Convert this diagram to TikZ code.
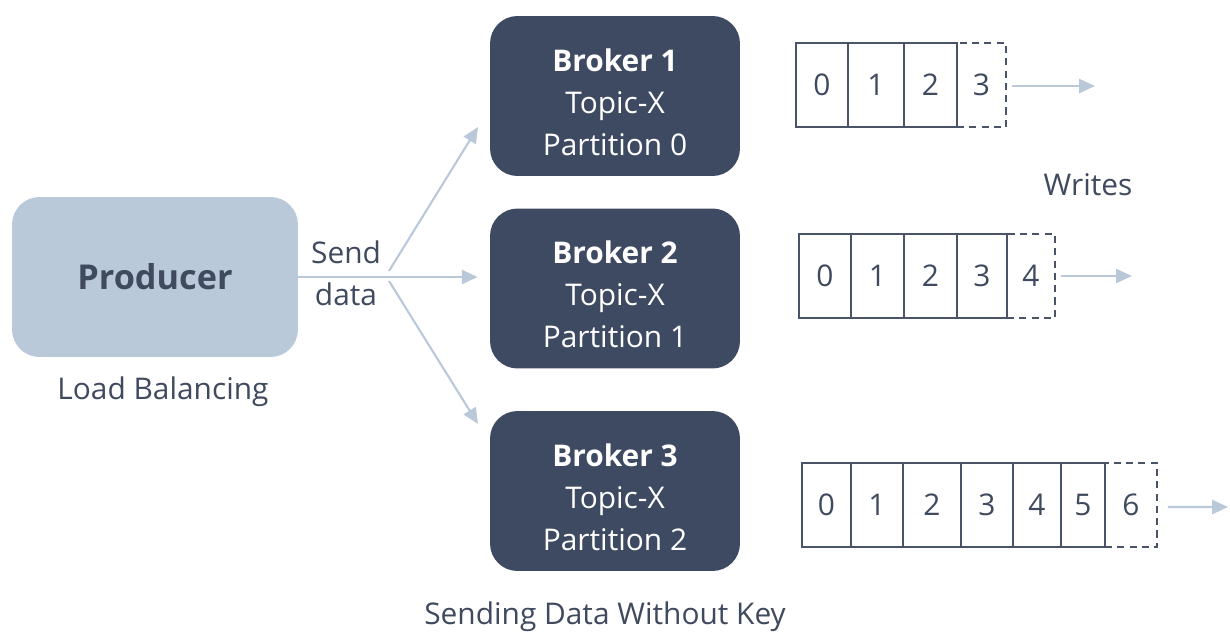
\documentclass[tikz,border=0pt]{standalone}
\usepackage{fontspec}
\setmainfont{Open Sans}
\usetikzlibrary{arrows.meta}
\definecolor{slate}{HTML}{3E4A62}
\definecolor{ink}{HTML}{3F4A5E}
\definecolor{pale}{HTML}{B9C9D9}
\definecolor{cellline}{HTML}{4A5468}
\tikzset{
  txt/.style={font=\fontsize{17pt}{23.8pt}\selectfont, text=ink, align=center, inner sep=0pt},
  broker/.style={fill=slate, rounded corners=0.55cm, minimum width=5cm, minimum height=3.2cm, inner sep=0pt},
  btext/.style={text=white, align=center, font=\fontsize{17pt}{23.8pt}\selectfont, inner sep=0pt},
  producer/.style={fill=pale, rounded corners=0.55cm, minimum width=5.72cm, minimum height=3.2cm,
    text=ink, font=\fontsize{19.5pt}{24pt}\selectfont\bfseries, inner sep=0pt},
  flow/.style={draw=pale, line width=1.2pt, -{Triangle[length=9pt,width=8pt]}},
  cell/.style={draw=cellline, line width=1.1pt, minimum height=1.68cm, inner sep=0pt,
    text=ink, font=\fontsize{17pt}{20pt}\selectfont},
  newcell/.style={cell, dashed, dash pattern=on 4pt off 3pt}
}
\begin{document}
\begin{tikzpicture}[x=0.02cm, y=-0.02cm]
\useasboundingbox (0,0) rectangle (1230,636);

% producer and brokers
\node[producer] (prod) at (155,277) {Producer};
\node[broker] (b1) at (615,96) {};
\node[broker] (b2) at (615,288.5) {};
\node[broker] (b3) at (615,491) {};
\node[btext] (b1t) at ([yshift=-0.12cm]b1.center) {\textbf{Broker 1}\\Topic-X\\Partition 0};
\node[btext] (b2t) at ([yshift=-0.12cm]b2.center) {\textbf{Broker 2}\\Topic-X\\Partition 1};
\node[btext] (b3t) at ([yshift=-0.12cm]b3.center) {\textbf{Broker 3}\\Topic-X\\Partition 2};

% captions
\node[txt] (lb) at (163,392) {Load Balancing};
\node[txt] (send) at (346,273) {Send\\data};
\node[txt] (writes) at (1088,185) {Writes};
\node[txt] (caption) at (605,617) {Sending Data Without Key};

% data distribution
\coordinate (fork1) at (389,271);
\coordinate (fork3) at (389,281);
\coordinate (tip1) at (478,127);
\coordinate (tip3) at (478,424);
\draw[flow] (prod.east) -- ([xshift=-0.24cm]b2.west |- prod.east);
\draw[flow] (fork1) -- (tip1);
\draw[flow] (fork3) -- (tip3);

% partition 0 log
\foreach \a/\b/\d in {796/848/0, 848/904/1, 904/957/2}
  \node[cell, minimum width={(\b-\a)*0.02cm}] (p0c\d) at ({(\a+\b)/2},85) {\d};
\node[newcell, minimum width={(1006-957)*0.02cm}] (p0n) at ({(957+1006)/2},85) {3};
\coordinate (w0) at (1095,86);
\draw[flow] ([xshift=0.1cm,yshift=-0.02cm]p0n.east) -- (w0);

% partition 1 log
\foreach \a/\b/\d in {799/851/0, 851/904/1, 904/957/2, 957/1007/3}
  \node[cell, minimum width={(\b-\a)*0.02cm}] (p1c\d) at ({(\a+\b)/2},276) {\d};
\node[newcell, minimum width={(1055-1007)*0.02cm}] (p1n) at ({(1007+1055)/2},276) {4};
\coordinate (w1) at (1132,276);
\draw[flow] ([xshift=0.1cm]p1n.east) -- (w1);

% partition 2 log
\foreach \a/\b/\d in {802/851/0, 851/903/1, 903/961/2, 961/1013/3, 1013/1061/4, 1061/1105/5}
  \node[cell, minimum width={(\b-\a)*0.02cm}] (p2c\d) at ({(\a+\b)/2},505) {\d};
\node[newcell, minimum width={(1157-1105)*0.02cm}] (p2n) at ({(1105+1157)/2},505) {6};
\coordinate (w2) at (1228,507);
\draw[flow] ([xshift=0.2cm,yshift=-0.04cm]p2n.east) -- (w2);
\end{tikzpicture}
\end{document}
